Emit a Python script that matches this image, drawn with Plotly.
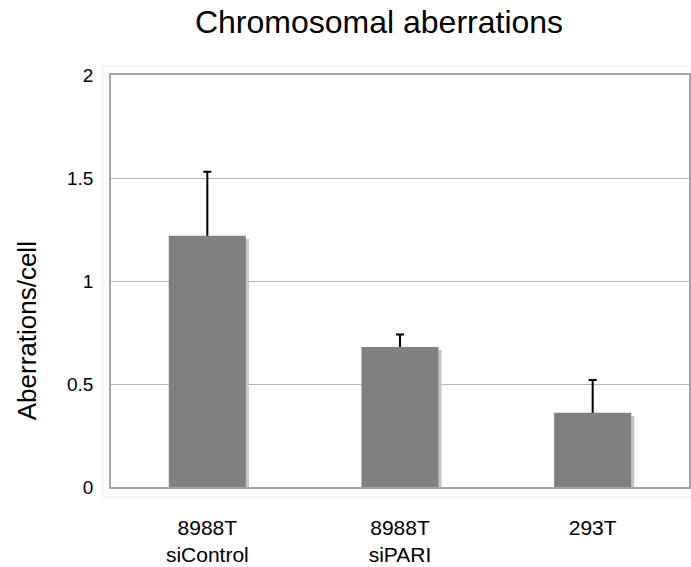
import plotly.graph_objects as go

categories = ["8988T<br>siControl", "8988T<br>siPARI", "293T"]
values = [1.22, 0.68, 0.36]
errors_plus = [0.31, 0.06, 0.16]
y_ticks = [0, 0.5, 1, 1.5, 2]
y_tick_labels = ["0", "0.5", "1", "1.5", "2"]

FONT = "Liberation Sans, Arial, Helvetica, sans-serif"
BAR_W = 0.4
SHADOW_DX = 0.016
SHADOW_DY = 0.015
HIDDEN_MINUS = 0.03  # lower cap tucked inside the bar

fig = go.Figure()

# error bars first (transparent bars), so the real bar hides the lower cap
fig.add_trace(go.Bar(
    x=categories, y=values,
    width=BAR_W, offset=-BAR_W / 2,
    marker=dict(color="rgba(0,0,0,0)", line=dict(width=0)),
    error_y=dict(type="data", array=errors_plus,
                 arrayminus=[HIDDEN_MINUS] * len(values),
                 symmetric=False, color="#000000", thickness=2, width=4),
    hoverinfo="skip", showlegend=False,
))

# soft drop shadow behind each bar
fig.add_trace(go.Bar(
    x=categories, y=values, base=[-SHADOW_DY] * len(values),
    width=BAR_W, offset=-BAR_W / 2 + SHADOW_DX,
    marker=dict(color="#c6c6c6", line=dict(width=0)),
    hoverinfo="skip", showlegend=False,
))

fig.add_trace(go.Bar(
    x=categories, y=values,
    width=BAR_W, offset=-BAR_W / 2,
    marker=dict(color="#808080", line=dict(width=0)),
    showlegend=False,
))

fig.update_layout(
    width=691, height=567,
    margin=dict(l=111, r=0, t=75, b=80),
    paper_bgcolor="white", plot_bgcolor="white",
    barmode="overlay",
    font=dict(family=FONT, color="#000000"),
    title=dict(text="Chromosomal aberrations", font=dict(size=32, family=FONT, color="#000"),
               x=379 / 691, xanchor="center", xref="container",
               y=1 - 22 / 567, yanchor="middle", yref="container"),
    shapes=[dict(type="rect", xref="paper", yref="paper",
                 x0=-8 / 580, x1=1.05, y0=-10 / 412, y1=1 + 9 / 412,
                 line=dict(color="#ebebeb", width=1), layer="below")],
    annotations=[dict(text="Aberrations/cell", textangle=-90, showarrow=False,
                      xref="paper", yref="paper", x=-84 / 580, y=(487 - 331) / 412,
                      xanchor="center", yanchor="middle",
                      font=dict(size=26, family=FONT, color="#000"))],
)

fig.update_xaxes(
    range=[-0.5, 2.5], showgrid=False,
    showline=True, linecolor="#a6a6a6", linewidth=1.5, mirror=True,
    ticks="", tickfont=dict(size=21, family=FONT, color="#000"),
    ticklabelstandoff=21,
)
fig.update_yaxes(
    range=[0, 2], tickvals=y_ticks, ticktext=y_tick_labels,
    showgrid=True, gridcolor="#b4b4b4", gridwidth=1,
    showline=True, linecolor="#a6a6a6", linewidth=1.5, mirror=True,
    zeroline=False,
    ticks="", tickfont=dict(size=19, family=FONT, color="#000"),
    ticklabelstandoff=12,
)

fig.write_html("out.html")
